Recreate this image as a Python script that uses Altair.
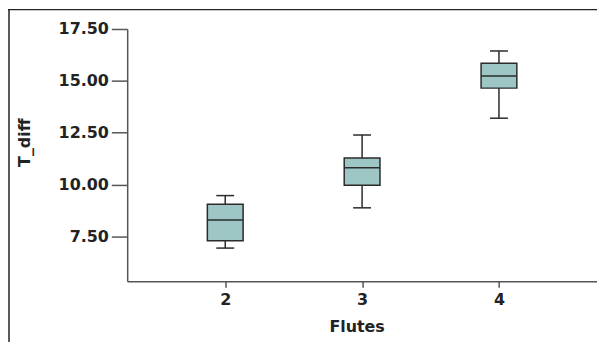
import altair as alt
import pandas as pd

flutes = [2, 3, 4]
whisker_low = [6.94, 8.88, 13.20]
q1 = [7.29, 9.97, 14.65]
median = [8.29, 10.81, 15.24]
q3 = [9.05, 11.28, 15.85]
whisker_high = [9.47, 12.39, 16.44]
y_ticks = [7.5, 10.0, 12.5, 15.0, 17.5]
x_ticks = [2, 3, 4]

df = pd.DataFrame(dict(Flutes=flutes, lo=whisker_low, q1=q1, med=median,
                       q3=q3, hi=whisker_high))

FONT = "DejaVu Sans"
AX = "#555555"
TXT = "#222222"
FILL = "#9dc6c5"
STROKE = "#2b2b2b"

xscale = alt.Scale(domain=[1.32, 4.68], nice=False, zero=False)
yscale = alt.Scale(domain=[5.34, 17.5], nice=False, zero=False)

xaxis = alt.Axis(values=x_ticks, format="d", grid=False, tickSize=6,
                 tickColor=AX, tickWidth=1.5, domainColor=AX, domainWidth=1.5,
                 labelFont=FONT, labelFontSize=16, labelFontWeight="bold",
                 labelColor=TXT, labelPadding=4, titleFont=FONT,
                 titleFontSize=16, titleFontWeight="bold", titleColor=TXT,
                 titleX=231, titleY=51, titleBaseline="alphabetic")
yaxis = alt.Axis(values=y_ticks, format=".2f", grid=False, tickSize=16,
                 tickColor=AX, tickWidth=1.5, domainColor=AX, domainWidth=1.5,
                 labelFont=FONT, labelFontSize=16, labelFontWeight="bold",
                 labelColor=TXT, labelPadding=3, titleFont=FONT,
                 titleFontSize=16, titleFontWeight="bold", titleColor=TXT,
                 titleAngle=270, titleX=-98, titleY=114,
                 titleBaseline="alphabetic", titleAlign="center")

X = alt.X("Flutes:Q", scale=xscale, axis=xaxis, title="Flutes")


def Y(field):
    return alt.Y(f"{field}:Q", scale=yscale, axis=yaxis, title="T_diff")


base = alt.Chart(df)

whisk = base.mark_rule(color=STROKE, strokeWidth=1.5).encode(
    x=X, y=Y("lo"), y2="hi:Q")
box = base.mark_bar(size=36, fill=FILL, stroke=STROKE, strokeWidth=1.5).encode(
    x=X, y=Y("q1"), y2="q3:Q")
med = base.mark_tick(orient="horizontal", size=36, thickness=1.5,
                     color=STROKE, opacity=1).encode(x=X, y=Y("med"))
cap_lo = base.mark_tick(orient="horizontal", size=18, thickness=1.5,
                        color=STROKE, opacity=1).encode(x=X, y=Y("lo"))
cap_hi = base.mark_tick(orient="horizontal", size=18, thickness=1.5,
                        color=STROKE, opacity=1).encode(x=X, y=Y("hi"))

frame_data = alt.Data(values=[{"a": 1}])
frame_left = alt.Chart(frame_data).mark_rule(color="#222222", strokeWidth=1.5).encode(
    x=alt.value(-119), y=alt.value(-20), y2=alt.value(330))
frame_top = alt.Chart(frame_data).mark_rule(color="#222222", strokeWidth=1.5).encode(
    x=alt.value(-120), x2=alt.value(480), y=alt.value(-19.5))

chart = alt.layer(whisk, box, med, cap_lo, cap_hi, frame_left, frame_top).properties(
    width=473, height=254,
    padding={"left": 120, "top": 20, "right": 0, "bottom": 60},
    autosize=alt.AutoSizeParams(type="none"),
    background="white",
).configure_view(stroke=None)

chart.save("out.html", embed_options={"renderer": "svg", "actions": False})
